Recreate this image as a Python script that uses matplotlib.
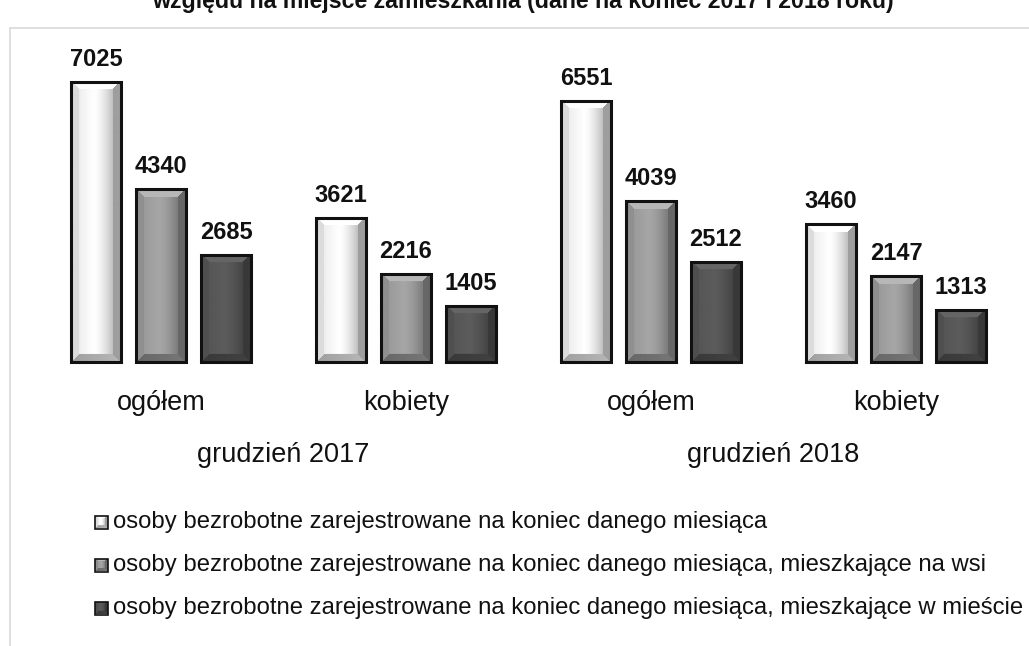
import numpy as np
import matplotlib
matplotlib.use('Agg')
import matplotlib.pyplot as plt
import matplotlib.transforms as mtransforms
from matplotlib.patches import Rectangle

# data
groups = ['ogółem', 'kobiety', 'ogółem', 'kobiety']
periods = ['grudzień 2017', 'grudzień 2018']
ogolem = [7025, 3621, 6551, 3460]
wies = [4340, 2216, 4039, 2147]
miasto = [2685, 1405, 2512, 1313]
series_names = ['osoby bezrobotne zarejestrowane na koniec danego miesiąca',
                'osoby bezrobotne zarejestrowane na koniec danego miesiąca, mieszkające na wsi',
                'osoby bezrobotne zarejestrowane na koniec danego miesiąca, mieszkające w mieście']
title = 'względu na miejsce zamieszkania (dane na koniec 2017 i 2018 roku)'

plt.rcParams['font.family'] = ['Liberation Sans', 'DejaVu Sans']

W, H = 1029, 646
fig = plt.figure(figsize=(W / 100, H / 100), dpi=100)
ax = fig.add_axes([0, 0, 1, 1])
ax.axis('off')

# pixel layout
base_px = 362          # baseline from top
px_per_unit = 0.03986  # vertical pixels per person
grp_px = 245           # distance between group centres
x0_px = 161            # centre of first group

tones = [1.0, 0.65, 0.36]
offs = [-65 / grp_px, 0, 65 / grp_px]
bw = 50 / grp_px
bev = 8  # bevel in px


def bevel_img(wpx, hpx, tone, bev=bev):
    wpx = max(int(round(wpx)), 4)
    hpx = max(int(round(hpx)), 4)
    u = np.arange(wpx)[None, :] + 0.5
    v = np.arange(hpx)[:, None] + 0.5
    dl = np.broadcast_to(u, (hpx, wpx))
    dr = wpx - dl
    dt = np.broadcast_to(v, (hpx, wpx))
    db = hpx - dt
    d = np.stack([dl, dr, dt, db])
    reg = np.argmin(d, axis=0)
    dmin = d.min(axis=0)
    # face: horizontal gradient
    t = (dl - bev) / max(wpx - 2 * bev, 1)
    face = np.where(t < 0.45, 0.93 + 0.07 * (t / 0.45),
                    1.0 - 0.25 * ((t - 0.45) / 0.55) ** 1.5)
    img = face * tone
    fac = {0: 0.86, 1: 0.62, 2: 1.1, 3: 0.66}
    for k, f in fac.items():
        m = (reg == k) & (dmin < bev)
        if k == 3:
            val = tone * (0.62 + 0.1 * (dl / wpx))
        elif k == 2:
            val = np.minimum(tone * f, 1.0) * np.ones_like(dl)
        else:
            val = tone * f * np.ones_like(dl)
        img = np.where(m, val, img)
    return np.clip(img, 0, 1)


xs = np.arange(len(groups))
for s, vals in enumerate([ogolem, wies, miasto]):
    for i, v in enumerate(vals):
        xc = xs[i] + offs[s]
        left, right = xc - bw / 2, xc + bw / 2
        hpx = v * px_per_unit
        img = bevel_img(bw * grp_px, hpx, tones[s])
        ax.imshow(img, cmap='gray', vmin=0, vmax=1, extent=(left, right, 0, v),
                  aspect='auto', interpolation='bilinear', zorder=2)
        ax.add_patch(Rectangle((left, 0), bw, v, fill=False, edgecolor='#111111',
                               linewidth=2.2, zorder=3))
        ax.text(xc, v + 11 / px_per_unit, str(v), ha='center', va='bottom',
                fontsize=17, fontweight='bold', color='#111111', zorder=4)

ax.set_xlim(-x0_px / grp_px, (W - x0_px) / grp_px)
ax.set_ylim(-(H - base_px) / px_per_unit, base_px / px_per_unit)

tr = mtransforms.blended_transform_factory(ax.transData, fig.transFigure)
for i, g in enumerate(groups):
    ax.text(xs[i], 1 - 403 / H, g, transform=tr, ha='center', va='center',
            fontsize=19.5, color='#111111')
for j, p in enumerate(periods):
    ax.text(xs[2 * j] + 0.5, 1 - 455 / H, p, transform=tr, ha='center', va='center',
            fontsize=19.5, color='#111111')

# legend
leg_y = [522, 565, 608]
for s, name in enumerate(series_names):
    yc = 1 - leg_y[s] / H
    sq = 13
    iax = fig.add_axes([95 / W, yc - sq / 2 / H, sq / W, sq / H])
    iax.axis('off')
    simg = bevel_img(13, 13, tones[s], bev=3)
    iax.imshow(simg, cmap='gray', vmin=0, vmax=1, aspect='auto', interpolation='bilinear')
    fig.patches.append(Rectangle((95 / W, yc - sq / 2 / H), sq / W, sq / H, fill=False,
                                 edgecolor='#111111', linewidth=1.2,
                                 transform=fig.transFigure, figure=fig))
    fig.text(113 / W, yc, name, ha='left', va='center', fontsize=17.2, color='#111111')

# outer frame and clipped title
fig.patches.append(Rectangle((10 / W, -0.05), 1.2, 1 - 28 / H + 0.05, fill=False,
                             edgecolor='#d9d9d9', linewidth=1.2,
                             transform=fig.transFigure, figure=fig))
fig.text(523 / W, 1 - 8 / H, title, ha='center', va='baseline', fontsize=16.7,
         fontweight='bold', color='#111111')

fig.savefig('out.png', dpi=100)
